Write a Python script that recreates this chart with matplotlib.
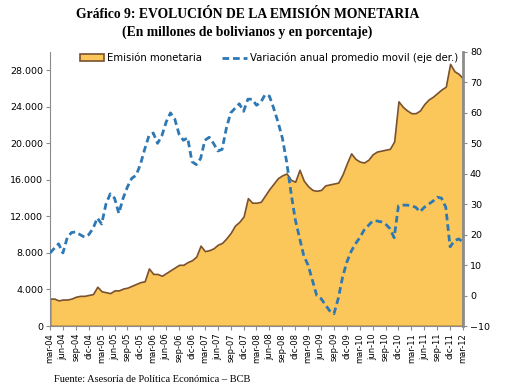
import numpy as np
import matplotlib.pyplot as plt
from matplotlib.ticker import FuncFormatter

# meses desde mar-04 hasta mar-12
meses = ["ene", "feb", "mar", "abr", "may", "jun", "jul", "ago", "sep", "oct", "nov", "dic"]
fechas = []
for k in range(97):
    m = (2 + k) % 12
    a = 4 + (2 + k) // 12
    fechas.append(f"{meses[m]}-{a:02d}")

# Emisión monetaria (millones de Bs)
emision = [3000, 3000, 2800, 2900, 2900, 3000, 3200, 3300, 3300, 3400,
           3500, 4300, 3800, 3700, 3600, 3900, 3900, 4100, 4200, 4400,
           4600, 4800, 4900, 6300, 5700, 5700, 5500, 5800, 6100, 6400,
           6700, 6700, 7000, 7200, 7600, 8800, 8200, 8300, 8500, 8900,
           9100, 9600, 10200, 11000, 11400, 12000, 14000, 13500, 13500, 13600,
           14300, 15000, 15600, 16200, 16500, 16700, 16000, 15800, 17100, 15900,
           15300, 14900, 14800, 14900, 15400, 15500, 15600, 15700, 16600, 17800,
           18900, 18300, 18000, 17900, 18200, 18800, 19100, 19200, 19300, 19400,
           20200, 24600, 24000, 23600, 23300, 23300, 23600, 24300, 24800, 25100,
           25500, 25900, 26200, 28700, 27900, 27600, 27100]

# Variación anual promedio móvil (%)
variacion = [14.0, 15.5, 17.0, 14.0, 19.0, 20.7, 20.9, 20.0, 19.2, 20.0,
             22.0, 25.5, 23.5, 30.0, 33.4, 32.0, 27.0, 32.0, 35.7, 38.5,
             39.5, 43.0, 48.0, 52.5, 53.4, 50.0, 52.5, 57.0, 60.0, 58.0,
             53.0, 51.0, 51.8, 44.0, 43.0, 45.0, 51.0, 52.0, 50.0, 47.5,
             48.0, 55.0, 60.0, 61.5, 63.0, 60.5, 64.5, 64.5, 62.5, 63.5,
             66.0, 65.5, 61.5, 57.0, 51.8, 44.0, 34.0, 25.0, 19.0, 13.0,
             10.0, 5.0, 0.0, -1.0, -3.0, -5.0, -6.0, -1.0, 6.0, 11.0,
             14.5, 17.0, 19.0, 21.5, 23.0, 24.5, 24.5, 24.2, 23.5, 22.0,
             19.0, 29.5, 29.7, 29.7, 29.5, 29.0, 27.5, 29.0, 30.0, 31.0,
             32.3, 32.0, 29.0, 16.0, 18.0, 18.6, 17.6]

x = np.arange(len(fechas))
gris = "#8c8c8c"

fig = plt.figure(figsize=(5.05, 3.92), dpi=100)
ax = fig.add_axes([50 / 505, 1 - 326 / 392, 413 / 505, 274 / 392])
ax2 = ax.twinx()

area = ax.fill_between(x, emision, 0, facecolor="#fcc75a", edgecolor="#7a5230",
                       linewidth=1.2, label="Emisión monetaria")
linea, = ax2.plot(x, variacion, color="#2e78b4", linewidth=2.0,
                  linestyle=(0, (2.4, 1.4)), label="Variación anual promedio movil (eje der.)")

ax.set_xlim(0, 96)
ax.set_ylim(0, 30000)
ax.set_yticks(np.arange(0, 28001, 4000))
ax.yaxis.set_major_formatter(FuncFormatter(lambda v, p: f"{int(v):,}".replace(",", ".")))
ax2.set_ylim(-10, 80)
ax2.set_yticks(np.arange(-10, 81, 10))

ax.set_xticks(x[::3])
ax.set_xticklabels(fechas[::3], rotation=90, fontsize=6.0)

for a in (ax, ax2):
    a.tick_params(axis="y", labelsize=6.8, length=3, color=gris, pad=2)
    for s in a.spines.values():
        s.set_visible(False)
ax.tick_params(axis="x", length=3, color=gris, pad=2)
ax.spines["left"].set_visible(True)
ax.spines["left"].set_color(gris)
ax.spines["bottom"].set_visible(True)
ax.spines["bottom"].set_color(gris)
ax2.spines["right"].set_visible(True)
ax2.spines["right"].set_color(gris)
ax2.spines["right"].set_linewidth(2)

ax.legend([area, linea], [area.get_label(), linea.get_label()], loc="upper center",
          bbox_to_anchor=(0.53, 1.03), ncol=2, frameon=False, fontsize=7.3,
          handlelength=2.4, columnspacing=2.0, handletextpad=0.3)

fig.text(0.49, 0.962, "Gráfico 9: EVOLUCIÓN DE LA EMISIÓN MONETARIA", ha="center", va="center",
         fontsize=9.8, fontweight="bold", family="Liberation Serif")
fig.text(0.49, 0.918, "(En millones de bolivianos y en porcentaje)", ha="center", va="center",
         fontsize=9.8, fontweight="bold", family="Liberation Serif")
fig.text(0.107, 0.033, "Fuente: Asesoría de Política Económica – BCB", ha="left", va="center",
         fontsize=7.5, family="Liberation Serif")

fig.savefig("out.png", dpi=100)
